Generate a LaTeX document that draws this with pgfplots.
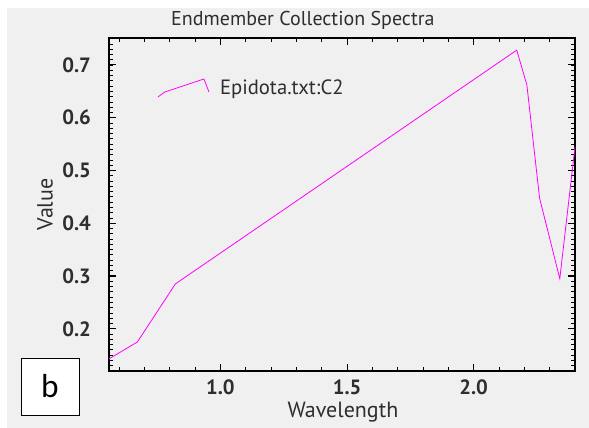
\documentclass[border=0pt]{standalone}
\usepackage{pgfplots}
\pgfplotsset{compat=1.18}
\usepackage{fontspec}
\setmainfont{PT Sans}
\newfontfamily\calib{Carlito}
\definecolor{bg}{HTML}{F0F0F0}
\definecolor{txt}{HTML}{2E2E2E}
\definecolor{spec}{HTML}{FF00FF}
\begin{document}
\begin{tikzpicture}
\useasboundingbox (-81.75pt,-42.75pt) rectangle (360pt,278.25pt);
\fill[bg] (-76.5pt,-42.75pt) rectangle (360pt,272.25pt);
\begin{axis}[
    at={(0pt,0pt)}, anchor=south west,
    scale only axis,
    width=349.5pt, height=249.75pt,
    xmin=0.56, xmax=2.40,
    ymin=0.12, ymax=0.751,
    xtick={1.0,1.5,2.0},
    ytick={0.2,0.3,0.4,0.5,0.6,0.7},
    minor xtick={0.6,0.7,0.8,0.9,1.1,1.2,1.3,1.4,1.6,1.7,1.8,1.9,2.1,2.2,2.3,2.4},
    minor ytick={0.13,0.14,0.15,...,0.75},
    tick align=inside,
    tickwidth=5.5pt,
    subtickwidth=3pt,
    axis line style={line width=0.9pt},
    major tick style={draw=black, line width=0.8pt},
    minor tick style={draw=black, line width=0.7pt},
    xtick pos=both, ytick pos=both,
    /pgf/number format/fixed,
    /pgf/number format/fixed zerofill,
    /pgf/number format/precision=1,
    /pgf/number format/assume math mode=true,
    tick label style={font=\fontsize{15.5pt}{17pt}\selectfont\bfseries, text=txt},
    yticklabel style={xshift=-10pt},
    xticklabel style={yshift=-3pt},
    title={Endmember Collection Spectra},
    title style={font=\fontsize{15pt}{18pt}\selectfont, text=txt,
        at={(axis description cs:0.416,1.054)}, anchor=center, yshift=-6pt},
    xlabel={Wavelength},
    ylabel={Value},
    label style={font=\fontsize{16.5pt}{19pt}\selectfont, text=txt},
    xlabel style={at={(axis description cs:0.502,-0.125)}, anchor=center},
    ylabel style={at={(axis description cs:-0.137,0.5)}, anchor=center},
    legend style={at={(axis description cs:0.095,0.85)}, anchor=west,
        draw=none, fill=none, font=\fontsize{15.5pt}{18pt}\selectfont, text=txt},
    legend image code/.code={
        \draw[#1] (0pt,-6.75pt) -- (5.25pt,-3pt) -- (34.5pt,6.75pt) -- (38.25pt,-3pt);
    },
    clip=true,
]
\addplot[spec, line width=0.6pt] coordinates {
    (0.560,0.143) (0.672,0.175) (0.822,0.285) (2.170,0.728)
    (2.210,0.662) (2.260,0.448) (2.340,0.295) (2.400,0.545)
};
\addlegendentry{\hspace{6pt}Epidota.txt:C2}
\end{axis}
\draw[black, line width=0.6pt, fill=white] (-66pt,-33pt) rectangle (-22.5pt,9.75pt);
\node[font=\calib\fontsize{25pt}{30pt}\selectfont] at (-44.25pt,-11.6pt) {b};
\end{tikzpicture}
\end{document}
